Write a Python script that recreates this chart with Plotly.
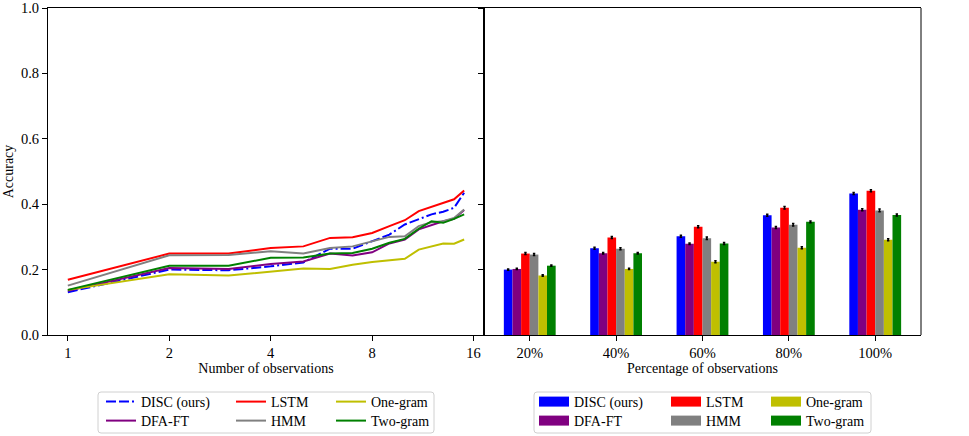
import plotly.graph_objects as go

# ---------------- data ----------------
series_names = ["DISC (ours)", "DFA-FT", "LSTM", "HMM", "One-gram", "Two-gram"]
series_colors = ["#0000ff", "#800080", "#ff0000", "#808080", "#bfbf00", "#008000"]

n_obs = [1, 2, 3, 4, 5, 6, 7, 8, 9, 10, 11, 12, 13, 14, 15]
acc_disc = [0.131, 0.200, 0.198, 0.210, 0.222, 0.264, 0.264, 0.287, 0.307, 0.338, 0.355, 0.369, 0.377, 0.389, 0.435]
acc_dfa = [0.135, 0.205, 0.202, 0.217, 0.225, 0.249, 0.243, 0.253, 0.280, 0.292, 0.323, 0.335, 0.348, 0.355, 0.382]
acc_lstm = [0.169, 0.249, 0.249, 0.266, 0.271, 0.297, 0.299, 0.312, 0.333, 0.351, 0.379, 0.392, 0.406, 0.415, 0.442]
acc_hmm = [0.151, 0.244, 0.245, 0.256, 0.249, 0.266, 0.271, 0.287, 0.300, 0.302, 0.333, 0.345, 0.348, 0.358, 0.384]
acc_one = [0.138, 0.186, 0.182, 0.195, 0.203, 0.202, 0.215, 0.223, 0.228, 0.233, 0.261, 0.271, 0.280, 0.279, 0.292]
acc_two = [0.138, 0.212, 0.212, 0.236, 0.237, 0.249, 0.251, 0.264, 0.282, 0.294, 0.325, 0.348, 0.343, 0.355, 0.369]
line_values = [acc_disc, acc_dfa, acc_lstm, acc_hmm, acc_one, acc_two]

obs_ticks = [1, 2, 4, 8, 16]
obs_ticklabels = ["1", "2", "4", "8", "16"]

pct_labels = ["20%", "40%", "60%", "80%", "100%"]
bar_disc = [0.200, 0.265, 0.302, 0.366, 0.433]
bar_dfa = [0.202, 0.250, 0.279, 0.329, 0.383]
bar_lstm = [0.249, 0.298, 0.331, 0.389, 0.441]
bar_hmm = [0.246, 0.264, 0.296, 0.337, 0.381]
bar_one = [0.182, 0.202, 0.224, 0.267, 0.291]
bar_two = [0.212, 0.250, 0.280, 0.346, 0.367]
bar_values = [bar_disc, bar_dfa, bar_lstm, bar_hmm, bar_one, bar_two]

err_disc = [0.002, 0.003, 0.003, 0.003, 0.003]
err_dfa = [0.002, 0.002, 0.002, 0.003, 0.003]
err_lstm = [0.003, 0.003, 0.003, 0.004, 0.003]
err_hmm = [0.003, 0.003, 0.004, 0.004, 0.004]
err_one = [0.002, 0.002, 0.003, 0.003, 0.003]
err_two = [0.002, 0.002, 0.003, 0.003, 0.003]
bar_errors = [err_disc, err_dfa, err_lstm, err_hmm, err_one, err_two]

y_ticks = [0.0, 0.2, 0.4, 0.6, 0.8, 1.0]

# ---------------- figure ----------------
FONT = "Liberation Serif"
fig = go.Figure()

# legend slots: (column x px, row y px) in column-major order
left_cols = [101, 101, 231, 231, 331, 331]
right_cols = [534, 534, 666, 666, 766, 766]
rows = [402, 421, 402, 421, 402, 421]

def leg(xpx, ypx):
    return dict(x=(xpx - 48) / 873, y=(335 - ypx) / 327, xanchor="left", yanchor="middle",
                bgcolor="rgba(0,0,0,0)", borderwidth=0, itemwidth=30,
                tracegroupgap=0, font=dict(family=FONT, size=14, color="black"))

legend_layout = {}
for i, name in enumerate(series_names):
    lname = "legend" if i == 0 else f"legend{i + 1}"
    legend_layout[lname] = leg(left_cols[i], rows[i])
    dash = "10px,3px,10px,3px,2px,3px" if i == 0 else "solid"
    fig.add_trace(go.Scatter(
        x=n_obs, y=line_values[i], mode="lines", name=name,
        line=dict(color=series_colors[i], width=2, dash=dash),
        xaxis="x", yaxis="y", legend=lname, showlegend=True,
    ))

for i, name in enumerate(series_names):
    lname = f"legend{i + 7}"
    legend_layout[lname] = leg(right_cols[i], rows[i])
    fig.add_trace(go.Bar(
        x=pct_labels, y=bar_values[i], name=name,
        marker=dict(color=series_colors[i], line=dict(width=0)),
        error_y=dict(type="data", array=bar_errors[i], color="black",
                     thickness=1.5, width=1.2),
        xaxis="x2", yaxis="y2", showlegend=False, legendgroup="bar" + str(i),
    ))
    # legend patch for the bar series
    fig.add_trace(go.Scatter(
        x=[None], y=[None], mode="lines", name=name,
        line=dict(color=series_colors[i], width=10),
        xaxis="x2", yaxis="y2", legend=lname,
        legendgroup="bar" + str(i), hoverinfo="skip",
    ))

axis_common = dict(
    showline=True, linecolor="black", linewidth=1, mirror=True,
    ticks="outside", ticklen=5, tickwidth=1, tickcolor="black",
    showgrid=False, zeroline=False, automargin=False,
    tickfont=dict(family=FONT, size=14.5, color="black"),
)

fig.update_layout(
    width=969, height=436,
    margin=dict(l=48, r=48, t=8, b=101, autoexpand=False),
    paper_bgcolor="white", plot_bgcolor="white",
    font=dict(family=FONT, size=14, color="black"),
    barmode="group", bargap=0.4, bargroupgap=0,
    xaxis=dict(axis_common, domain=[0, 0.4994], type="log",
               range=[-0.0588, 1.2349], tickvals=obs_ticks, ticktext=obs_ticklabels,
               title=dict(text="Number of observations", standoff=2,
                          font=dict(family=FONT, size=14))),
    yaxis=dict(axis_common, range=[0, 1], tickvals=y_ticks, tickformat=".1f", side="left",
               title=dict(text="Accuracy", standoff=4, font=dict(family=FONT, size=14))),
    xaxis2=dict(axis_common, domain=[0.4994, 1], type="category",
                range=[-0.53, 4.53], anchor="y2",
                title=dict(text="Percentage of observations", standoff=2,
                           font=dict(family=FONT, size=14))),
    yaxis2=dict(axis_common, range=[0, 1], tickvals=y_ticks, showticklabels=False,
                anchor="x2", side="left", mirror=False),
    **legend_layout,
)

# rounded legend frames
def rounded_box(x0px, x1px, y0px, y1px, r=3):
    x0 = (x0px - 48) / 873; x1 = (x1px - 48) / 873
    yt = (335 - y0px) / 327; yb = (335 - y1px) / 327
    rx = r / 873; ry = r / 327
    path = (f"M{x0+rx},{yt} L{x1-rx},{yt} Q{x1},{yt} {x1},{yt-ry} "
            f"L{x1},{yb+ry} Q{x1},{yb} {x1-rx},{yb} L{x0+rx},{yb} "
            f"Q{x0},{yb} {x0},{yb+ry} L{x0},{yt-ry} Q{x0},{yt} {x0+rx},{yt} Z")
    return dict(type="path", xref="paper", yref="paper", path=path,
                line=dict(color="#d0d0d0", width=1), fillcolor="white", layer="below")

right_spine = dict(type="line", xref="paper", yref="paper", x0=1, x1=1, y0=0, y1=1,
                   line=dict(color="black", width=1), layer="above")

fig.update_layout(shapes=[rounded_box(98, 434, 392, 433), rounded_box(534, 871, 392, 433),
                          right_spine])

fig.write_html("out.html", config={"displayModeBar": False},
               post_script="document.body.style.margin='0';document.body.style.overflow='hidden';")
